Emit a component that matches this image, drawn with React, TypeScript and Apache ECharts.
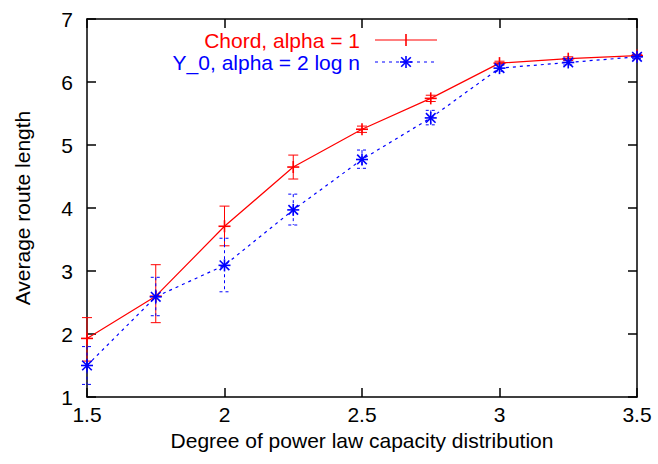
import React, { useEffect, useRef } from "react";
import * as echarts from "echarts";

const xValues = [1.5, 1.75, 2, 2.25, 2.5, 2.75, 3, 3.25, 3.5];
const chordMean = [1.93, 2.6, 3.71, 4.65, 5.25, 5.74, 6.3, 6.37, 6.42];
const chordLow = [1.57, 2.18, 3.4, 4.46, 5.2, 5.69, 6.27, 6.34, 6.4];
const chordHigh = [2.26, 3.1, 4.03, 4.84, 5.3, 5.79, 6.33, 6.4, 6.44];
const y0Mean = [1.5, 2.59, 3.09, 3.97, 4.77, 5.43, 6.22, 6.31, 6.4];
const y0Low = [1.2, 2.29, 2.67, 3.73, 4.63, 5.32, 6.17, 6.27, 6.37];
const y0High = [1.8, 2.9, 3.52, 4.22, 4.92, 5.55, 6.27, 6.35, 6.43];
const xTicks = [1.5, 2, 2.5, 3, 3.5];
const legendChord = "Chord, alpha = 1";
const legendY0 = "Y_0, alpha = 2 log n";
const xName = "Degree of power law capacity distribution";
const yName = "Average route length";

const RED = "#ff0000";
const BLUE = "#0000ff";
const FONT = "'Liberation Sans', Arial, Helvetica, sans-serif";

function plusLines(cx: number, cy: number, r: number, style: any) {
  return [
    { type: "line", shape: { x1: cx - r, y1: cy, x2: cx + r, y2: cy }, style },
    { type: "line", shape: { x1: cx, y1: cy - r, x2: cx, y2: cy + r }, style },
  ];
}
function starLines(cx: number, cy: number, r: number, style: any) {
  const d = r * 0.8;
  return [
    ...plusLines(cx, cy, r, style),
    { type: "line", shape: { x1: cx - d, y1: cy - d, x2: cx + d, y2: cy + d }, style },
    { type: "line", shape: { x1: cx - d, y1: cy + d, x2: cx + d, y2: cy - d }, style },
  ];
}

function makeErrSeries(mean: number[], low: number[], high: number[], color: string, dashed: boolean, star: boolean) {
  const data = xValues.map((x, i) => [x, mean[i], low[i], high[i]]);
  return {
    type: "custom",
    clip: false,
    z: 5,
    data,
    renderItem: (params: any, api: any) => {
      const x = api.value(0);
      const pm = api.coord([x, api.value(1)]);
      const pl = api.coord([x, api.value(2)]);
      const ph = api.coord([x, api.value(3)]);
      const cap = 5;
      const barStyle: any = { stroke: color, lineWidth: 1, lineDash: dashed ? [3, 3] : null };
      const mStyle: any = { stroke: color, lineWidth: 1.6 };
      const children: any[] = [
        { type: "line", shape: { x1: pm[0], y1: ph[1], x2: pm[0], y2: pl[1] }, style: barStyle },
        { type: "line", shape: { x1: pm[0] - cap, y1: ph[1], x2: pm[0] + cap, y2: ph[1] }, style: barStyle },
        { type: "line", shape: { x1: pm[0] - cap, y1: pl[1], x2: pm[0] + cap, y2: pl[1] }, style: barStyle },
      ];
      if (star) children.push(...starLines(pm[0], pm[1], 6, mStyle));
      else children.push(...plusLines(pm[0], pm[1], 6, mStyle));
      return { type: "group", children };
    },
  };
}

export default function App() {
  const ref = useRef<HTMLDivElement>(null);
  useEffect(() => {
    if (!ref.current) return;
    const chart = echarts.init(ref.current, null, { renderer: "svg" });
    const axisLine = { show: true, lineStyle: { color: "#000", width: 1.5 } };
    const tick = { show: true, inside: true, length: 9, lineStyle: { color: "#000", width: 1.5 } };
    const labelStyle = { color: "#000", fontSize: 21, fontFamily: FONT };
    chart.setOption({
      animation: false,
      backgroundColor: "#fff",
      grid: { left: 87, right: 21, top: 19, bottom: 67 },
      xAxis: [
        {
          type: "value",
          min: 1.5,
          max: 3.5,
          interval: 0.5,
          position: "bottom",
          axisLine,
          axisTick: tick,
          splitLine: { show: false },
          axisLabel: { ...labelStyle, margin: 7, formatter: (v: number) => (xTicks.includes(v) ? String(v) : "") },
          name: xName,
          nameLocation: "middle",
          nameGap: 30,
          nameTextStyle: labelStyle,
        },
        {
          type: "value",
          min: 1.5,
          max: 3.5,
          interval: 0.5,
          position: "top",
          axisLine,
          axisTick: tick,
          splitLine: { show: false },
          axisLabel: { show: false },
        },
      ],
      yAxis: [
        {
          type: "value",
          min: 1,
          max: 7,
          interval: 1,
          position: "left",
          axisLine,
          axisTick: tick,
          splitLine: { show: false },
          axisLabel: { ...labelStyle, margin: 14 },
          name: yName,
          nameLocation: "middle",
          nameGap: 54,
          nameTextStyle: labelStyle,
        },
        {
          type: "value",
          min: 1,
          max: 7,
          interval: 1,
          position: "right",
          axisLine,
          axisTick: tick,
          splitLine: { show: false },
          axisLabel: { show: false },
        },
      ],
      series: [
        {
          type: "line",
          data: xValues.map((x, i) => [x, chordMean[i]]),
          showSymbol: false,
          lineStyle: { color: RED, width: 1.2 },
          z: 3,
        },
        {
          type: "line",
          data: xValues.map((x, i) => [x, y0Mean[i]]),
          showSymbol: false,
          lineStyle: { color: BLUE, width: 1.2, type: [3, 4] },
          z: 3,
        },
        makeErrSeries(chordMean, chordLow, chordHigh, RED, false, false),
        makeErrSeries(y0Mean, y0Low, y0High, BLUE, true, true),
      ],
      graphic: [
        {
          type: "text",
          x: 360,
          y: 40,
          style: { text: legendChord, fill: RED, font: `21px ${FONT}`, textAlign: "right", textVerticalAlign: "middle" },
        },
        {
          type: "text",
          x: 360,
          y: 62,
          style: { text: legendY0, fill: BLUE, font: `21px ${FONT}`, textAlign: "right", textVerticalAlign: "middle" },
        },
        { type: "line", shape: { x1: 375, y1: 40, x2: 437, y2: 40 }, style: { stroke: RED, lineWidth: 1.2 } },
        { type: "line", shape: { x1: 406, y1: 34, x2: 406, y2: 46 }, style: { stroke: RED, lineWidth: 1.6 } },
        { type: "line", shape: { x1: 375, y1: 62, x2: 437, y2: 62 }, style: { stroke: BLUE, lineWidth: 1.2, lineDash: [3, 4] } },
        { type: "group", children: starLines(406, 62, 6, { stroke: BLUE, lineWidth: 1.6 }) },
      ],
    });
    return () => chart.dispose();
  }, []);
  return <div ref={ref} style={{ position: "fixed", left: 0, top: 0, width: 658, height: 464 }} />;
}
